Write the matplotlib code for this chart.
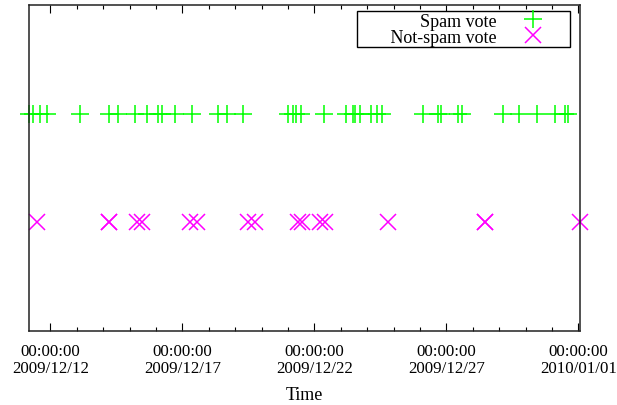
import matplotlib
matplotlib.use("Agg")
import matplotlib.pyplot as plt
import matplotlib.dates as mdates
import numpy as np
import pandas as pd

# vote times
spam_times = [
    "2009-12-11 04:05", "2009-12-11 08:27", "2009-12-11 14:32", "2009-12-11 20:38",
    "2009-12-13 02:54", "2009-12-14 05:32", "2009-12-14 13:43", "2009-12-15 04:55",
    "2009-12-15 15:33", "2009-12-16 02:05", "2009-12-16 05:27", "2009-12-16 17:16",
    "2009-12-17 08:27", "2009-12-18 08:38", "2009-12-18 16:16", "2009-12-19 06:49",
    "2009-12-21 00:16", "2009-12-21 04:16", "2009-12-21 06:49", "2009-12-21 11:21",
    "2009-12-22 08:44", "2009-12-23 04:44", "2009-12-23 11:21", "2009-12-23 13:11",
    "2009-12-23 17:00", "2009-12-24 03:11", "2009-12-24 09:11", "2009-12-24 13:11",
    "2009-12-26 03:00", "2009-12-26 16:38", "2009-12-26 19:05", "2009-12-27 10:49",
    "2009-12-27 13:55", "2009-12-29 03:44", "2009-12-29 18:16", "2009-12-30 10:05",
    "2009-12-31 02:44", "2009-12-31 11:49", "2009-12-31 14:05",
]
notspam_times = [
    "2009-12-11 11:49", "2009-12-14 05:32", "2009-12-14 05:40", "2009-12-15 06:27",
    "2009-12-15 11:00", "2009-12-17 06:55", "2009-12-17 13:00", "2009-12-19 11:55",
    "2009-12-19 18:00", "2009-12-21 09:22", "2009-12-21 12:27", "2009-12-22 05:05",
    "2009-12-22 09:38", "2009-12-24 18:38", "2009-12-28 11:05", "2009-12-28 11:12",
    "2010-01-01 01:26",
]
spam_level = 2
notspam_level = 1
tick_dates = ["2009-12-12", "2009-12-17", "2009-12-22", "2009-12-27", "2010-01-01"]
spam_label = "Spam vote"
notspam_label = "Not-spam vote"

plt.rcParams["font.family"] = ["Liberation Serif", "DejaVu Serif"]
plt.rcParams["font.size"] = 13

spam = pd.to_datetime(spam_times)
notspam = pd.to_datetime(notspam_times)

fig = plt.figure(figsize=(6.17, 4.06), dpi=100)
ax = fig.add_axes([28.5 / 617, 1 - 332 / 406, (580 - 28.5) / 617, (332 - 6) / 406])

ax.plot(spam, np.full(len(spam), spam_level), linestyle="none", marker="+",
        markersize=12.5, markeredgewidth=1.1, color="#00ff00", label=spam_label,
        clip_on=False)
# leading spaces give the legend box its wide left margin
ax.plot(notspam, np.full(len(notspam), notspam_level), linestyle="none", marker="x",
        markersize=11.5, markeredgewidth=1.1, color="#ff00ff",
        label="       " + notspam_label, clip_on=False)

ax.set_xlim(min(spam.min(), notspam.min()), max(spam.max(), notspam.max()))
ax.set_ylim(0, 3)
ax.set_yticks([])

ax.xaxis.set_major_locator(matplotlib.ticker.FixedLocator(mdates.date2num(pd.to_datetime(tick_dates))))
ax.xaxis.set_minor_locator(mdates.DayLocator())
ax.xaxis.set_major_formatter(mdates.DateFormatter("%H:%M:%S\n%Y/%m/%d"))
ax.tick_params(axis="x", which="both", direction="in", top=True, width=0.8, pad=9,
               labelsize=12.2)
ax.tick_params(axis="x", which="major", length=5.5)
ax.tick_params(axis="x", which="minor", length=3)
for lab in ax.get_xticklabels():
    lab.set_linespacing(1.05)
for sp in ax.spines.values():
    sp.set_linewidth(1.1)
    sp.set_color("#222222")

ax.set_xlabel("Time", labelpad=7)

leg = ax.legend(loc="upper right", bbox_to_anchor=(570 / 617, 1 - 11.7 / 406),
                bbox_transform=fig.transFigure, borderaxespad=0, markerfirst=False,
                fancybox=False, edgecolor="black", framealpha=1, borderpad=0.1,
                labelspacing=-0.05, handlelength=3.9, handletextpad=0.05, fontsize=13)
leg.get_frame().set_linewidth(1.0)
# right-align the labels like gnuplot does
leg._legend_handle_box.get_children()[0].align = "right"

fig.savefig("out.png", dpi=100)
